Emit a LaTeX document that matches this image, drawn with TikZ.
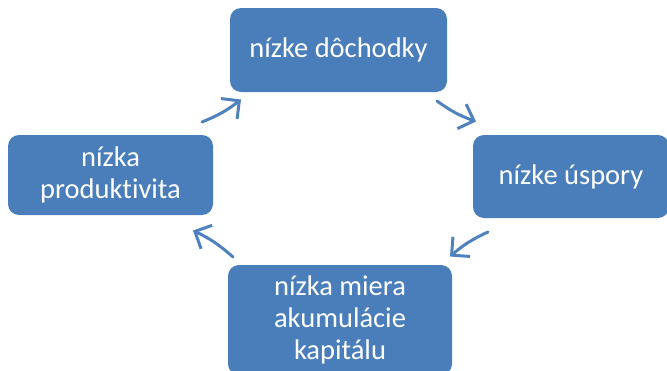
\documentclass[tikz,border=0pt]{standalone}
\usepackage{fontspec}
\setmainfont{Carlito}[Ligatures=NoCommon]
\usetikzlibrary{arrows.meta}
\definecolor{boxblue}{HTML}{4A7EBB}
\definecolor{arrblue}{HTML}{4F81BD}
\tikzset{
  box/.style={draw=none, fill=boxblue, rounded corners=11pt, text=white,
    font=\fontsize{28.5}{32}\selectfont, align=center, inner sep=0pt},
  cyc/.style={draw=arrblue, line width=3pt, line cap=round,
    -{Straight Barb[length=13pt,width=26pt,line width=3pt]}}
}
\begin{document}
\begin{tikzpicture}[x=1pt,y=-1pt]
\useasboundingbox (0,0) rectangle (667,370);
\clip (0,0) rectangle (667,370);
\node[box, minimum width=217pt, minimum height=84pt] (top) at (338.5,50) {nízke dôchodky};
\node[box, minimum width=196pt, minimum height=83pt] (right) at (571,176.5) {nízke úspory};
\node[box, minimum width=224pt, minimum height=110pt] (bottom) at (340,320) {nízka miera\\akumulácie\\kapitálu};
\node[box, minimum width=205pt, minimum height=80pt] (left) at (110.5,175) {nízka\\produktivita};
\coordinate (a1s) at (202,122); \coordinate (a1e) at (241,99.5);
\coordinate (a2s) at (437,101); \coordinate (a2e) at (476,121.5);
\coordinate (a3s) at (488,232); \coordinate (a3e) at (450,256.5);
\coordinate (a4s) at (233,257); \coordinate (a4e) at (193,230.5);
\draw[cyc] (a1s) to[bend right=8] (a1e);
\draw[cyc] (a2s) to[bend right=8] (a2e);
\draw[cyc] (a3s) to[bend right=8] (a3e);
\draw[cyc] (a4s) to[bend right=8] (a4e);
\end{tikzpicture}
\end{document}
